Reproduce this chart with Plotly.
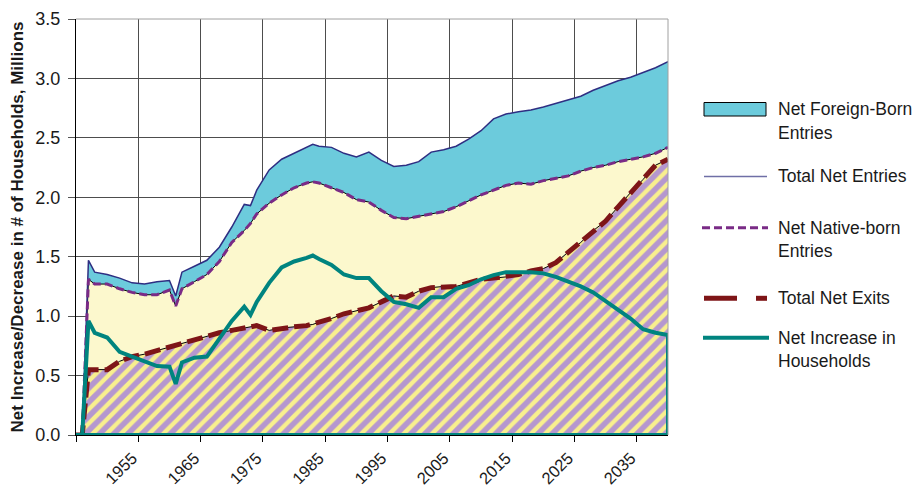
import plotly.graph_objects as go

# ---------------------------------------------------------------
# data (millions of households)
years = [1945, 1946, 1947, 1948, 1950, 1952, 1954, 1956, 1958, 1960,
         1961, 1962, 1964, 1966, 1968, 1970, 1972, 1973, 1974, 1976,
         1978, 1980, 1982, 1983, 1984, 1986, 1988, 1990, 1992, 1994,
         1996, 1998, 2000, 2002, 2004, 2006, 2008, 2010, 2012, 2014,
         2016, 2018, 2020, 2022, 2024, 2026, 2028, 2030, 2032, 2034,
         2036, 2038, 2040]

total_entries = [0, 0, 1.47, 1.37, 1.35, 1.32, 1.28, 1.27, 1.29, 1.30,
                 1.17, 1.37, 1.42, 1.47, 1.58, 1.75, 1.94, 1.93, 2.06, 2.23,
                 2.32, 2.37, 2.42, 2.445, 2.43, 2.42, 2.37, 2.34, 2.38, 2.31,
                 2.26, 2.27, 2.30, 2.38, 2.40, 2.43, 2.49, 2.56, 2.66, 2.70,
                 2.72, 2.735, 2.76, 2.79, 2.815, 2.85, 2.90, 2.94, 2.98, 3.01,
                 3.05, 3.09, 3.14]

native_entries = [0, 0, 1.31, 1.27, 1.27, 1.23, 1.20, 1.18, 1.18, 1.22,
                  1.085, 1.23, 1.29, 1.35, 1.46, 1.62, 1.72, 1.78, 1.86, 1.95,
                  2.02, 2.08, 2.12, 2.13, 2.12, 2.08, 2.04, 1.98, 1.96, 1.89,
                  1.83, 1.82, 1.84, 1.86, 1.88, 1.92, 1.97, 2.02, 2.06, 2.10,
                  2.12, 2.11, 2.14, 2.16, 2.18, 2.22, 2.25, 2.27, 2.30, 2.32,
                  2.34, 2.37, 2.42]

total_exits = [0, 0, 0.55, 0.55, 0.55, 0.62, 0.66, 0.68, 0.71, 0.74,
               0.76, 0.77, 0.80, 0.83, 0.86, 0.88, 0.90, 0.91, 0.92, 0.88,
               0.90, 0.91, 0.92, 0.93, 0.95, 0.98, 1.02, 1.045, 1.07, 1.12,
               1.17, 1.16, 1.21, 1.24, 1.25, 1.25, 1.28, 1.31, 1.32, 1.33,
               1.35, 1.38, 1.40, 1.45, 1.54, 1.62, 1.72, 1.80, 1.92, 2.04,
               2.15, 2.27, 2.32]

net_increase = [0, 0, 0.96, 0.86, 0.82, 0.70, 0.66, 0.62, 0.58, 0.575,
                0.43, 0.61, 0.65, 0.66, 0.81, 0.96, 1.08, 1.01, 1.12, 1.28,
                1.41, 1.46, 1.49, 1.51, 1.48, 1.43, 1.35, 1.32, 1.32, 1.21,
                1.12, 1.10, 1.07, 1.16, 1.16, 1.23, 1.26, 1.31, 1.345, 1.37,
                1.37, 1.37, 1.36, 1.33, 1.29, 1.25, 1.20, 1.13, 1.06, 0.98,
                0.89, 0.86, 0.84]

tick_years = [1945, 1955, 1965, 1975, 1985, 1995, 2005, 2015, 2025, 2035]
tick_text = [""] + [str(y) for y in tick_years[1:]]

#---------------------------------------------------------------
# colours
cyan = "#6ccbdc"
pale_yellow = "#fcf8cd"
hatch_yellow = "#f8ef8e"
hatch_purple = "#b597cf"
navy = "#2e2e82"
purple = "#7a2b86"
dark_red = "#7e1517"
teal = "#00847f"
font = "Liberation Sans, Arial, sans-serif"

fig = go.Figure()

# stacked-looking areas
fig.add_trace(go.Scatter(x=years, y=total_exits, mode="lines", fill="tozeroy",
                         fillpattern=dict(shape="/", fgcolor=hatch_purple, bgcolor=hatch_yellow,
                                          size=10, solidity=0.55, fgopacity=1),
                         line=dict(color="black", width=1), showlegend=False))
fig.add_trace(go.Scatter(x=years, y=native_entries, mode="lines", fill="tonexty",
                         fillcolor=pale_yellow, line=dict(color="black", width=1),
                         showlegend=False))
fig.add_trace(go.Scatter(x=years, y=total_entries, mode="lines", fill="tonexty",
                         fillcolor=cyan, line=dict(color=navy, width=1.5),
                         showlegend=False))

# line series
fig.add_trace(go.Scatter(x=years, y=native_entries, mode="lines",
                         line=dict(color=purple, width=3, dash="8px,4px"), showlegend=False))
fig.add_trace(go.Scatter(x=years, y=total_exits, mode="lines",
                         line=dict(color=dark_red, width=5, dash="16px,6px"), showlegend=False))
# net increase drawn as an outlined area (runs back along the baseline)
fig.add_trace(go.Scatter(x=years + [years[-1], years[1]], y=net_increase + [0, 0],
                         mode="lines", line=dict(color=teal, width=4), showlegend=False))

# plot frame (top / right in grey)
fig.add_shape(type="line", xref="paper", yref="paper", x0=0, x1=1, y0=1, y1=1,
              line=dict(color="#a0a0a0", width=1))
fig.add_shape(type="line", xref="paper", yref="paper", x0=1, x1=1, y0=0, y1=1,
              line=dict(color="#a0a0a0", width=1))

# ---------------------------------------------------------------
# page body has an 8px margin, so the figure is drawn 8px in and 8px down
OFF = 8
L, W, T, H = 76, 592, 19, 416


def px(xp):
    return (xp - L) / W


def py(yp):
    return 1 - (yp - T) / H


# hand-made legend to the right of the plot
fig.add_shape(type="rect", xref="paper", yref="paper",
              x0=px(704), x1=px(766), y0=py(116), y1=py(102.5),
              fillcolor=cyan, line=dict(color="black", width=1))
fig.add_shape(type="line", xref="paper", yref="paper",
              x0=px(704), x1=px(767), y0=py(176.5), y1=py(176.5),
              line=dict(color="#6f6fa6", width=1.5))
fig.add_shape(type="line", xref="paper", yref="paper",
              x0=px(702), x1=px(768), y0=py(227.7), y1=py(227.7),
              line=dict(color=purple, width=3, dash="8px,4px"))
fig.add_shape(type="line", xref="paper", yref="paper",
              x0=px(704), x1=px(737), y0=py(298.3), y1=py(298.3),
              line=dict(color=dark_red, width=5))
fig.add_shape(type="line", xref="paper", yref="paper",
              x0=px(756), x1=px(767), y0=py(298.3), y1=py(298.3),
              line=dict(color=dark_red, width=5))
fig.add_shape(type="line", xref="paper", yref="paper",
              x0=px(703), x1=px(769), y0=py(337.7), y1=py(337.7),
              line=dict(color=teal, width=4))

legend_lines = [("Net Foreign-Born", 109.5), ("Entries", 132.7),
                ("Total Net Entries", 176.5),
                ("Net Native-born", 227.7), ("Entries", 250.7),
                ("Total Net Exits", 298.3),
                ("Net Increase in", 337.7), ("Households", 361)]
for txt, yy in legend_lines:
    fig.add_annotation(text=txt, xref="paper", yref="paper", x=px(776), y=py(yy),
                       xanchor="left", yanchor="middle", showarrow=False,
                       font=dict(family=font, size=17.5, color="#1a1a1a"))

fig.update_xaxes(range=[1945, 2040], tickmode="array", tickvals=tick_years, ticktext=tick_text,
                 tickangle=-45, ticks="outside", ticklen=6, tickcolor="black",
                 ticklabelshift=-6, ticklabelstandoff=0,
                 showgrid=True, gridcolor="#4d4d4d", gridwidth=1, automargin=False,
                 showline=True, linecolor="black", linewidth=1, zeroline=False,
                 tickfont=dict(family=font, size=16.5, color="#1a1a1a"))
fig.update_yaxes(range=[0, 3.5], tickmode="array", tickvals=[0, 0.5, 1, 1.5, 2, 2.5, 3, 3.5],
                 tickformat=".1f", ticks="outside", ticklen=7, tickcolor="#555555",
                 showgrid=True, gridcolor="#4d4d4d", gridwidth=1, automargin=False,
                 showline=True, linecolor="black", linewidth=1, zeroline=False,
                 ticklabelstandoff=4,
                 tickfont=dict(family=font, size=18, color="#1a1a1a"),
                 title=dict(text="<b>Net Increase/Decrease in # of Households, Millions</b>",
                            font=dict(family=font, size=17, color="#1a1a1a"), standoff=8))

fig_w, fig_h = 921 - OFF, 487 - OFF
fig.update_layout(width=fig_w, height=fig_h,
                  margin=dict(l=L - OFF, r=fig_w - (L - OFF) - W, t=T - OFF, b=fig_h - (T - OFF) - H),
                  plot_bgcolor="white", paper_bgcolor="white", showlegend=False)

fig.write_html("out.html")
